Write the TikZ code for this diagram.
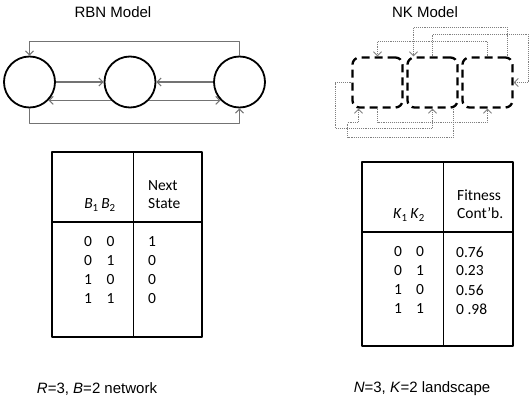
\documentclass[tikz,border=0pt]{standalone}
\usepackage{fontspec}
\setmainfont{Liberation Sans}
\newfontfamily\tabfont{Carlito}
\usetikzlibrary{arrows.meta}

\tikzset{
  cell/.style={circle,draw=black,line width=1.8pt,fill=white,minimum size=51pt,inner sep=0pt},
  site/.style={draw=black,line width=2.3pt,dash pattern=on 8pt off 5pt,rounded corners=7pt,minimum size=50pt,inner sep=0pt},
  link/.style={draw=black!55,line width=1.1pt,-{Straight Barb[length=4pt,width=8pt]}},
  nklink/.style={draw=black!50,line width=0.9pt,densely dotted,-{Straight Barb[length=4pt,width=8pt]}},
  frame/.style={line width=2.5pt},
  tab/.style={font=\tabfont\fontsize{15.5}{18.5}\selectfont,inner sep=0pt}
}

\begin{document}
\begin{tikzpicture}[x=1pt,y=-1pt,line join=round,font=\fontsize{15}{18}\selectfont]
\useasboundingbox (0,0) rectangle (532,404);

% RBN model
\node (rbn) at (113,12) {RBN Model};
\node[cell] (c1) at (29.5,82) {};
\node[cell] (c2) at (130,82) {};
\node[cell] (c3) at (239.5,82) {};

\draw[link] (c3.north) -- ++(0,-14) -| (c1.north);
\draw[link] (c1.south) -- ++(0,15) -| (c3.south);
\draw[link] (c1) -- (c2);
\draw[link] (c3) -- (c2);
\draw[link] (c2.224) -- (c1.-44);
\draw[link] (c2.-44) -- (c3.224);

% NK model
\node (nk) at (425,12) {NK Model};
\node[site] (k1) at (377.5,82.5) {};
\node[site] (k2) at (432.5,82.5) {};
\node[site] (k3) at (487.5,82.5) {};

\draw[nklink] (k3.north) -- ++(0,-15) -| (k1.north);
\draw[nklink] ([xshift=20]k3.north) -- ++(0,-29) -| ([xshift=-19]k2.north);
\draw[nklink] (k2.north) -- ++(0,-22) -| ([xshift=15]k3.east) -- (k3.east);
\draw[nklink] (k1.west) -- ++(-16,0) -- ++(0,46) -| (k2.south);
\draw[nklink] ([xshift=21]k2.south) -- ++(0,29) -- ++(-106,0) -- ++(0,-15) -| ([xshift=-19]k1.south);
\draw[nklink] (k1.south) -- ++(0,14) -| (k3.south);

% truth table
\draw[line width=0.8pt] (133,152) -- (133,337);
\draw[frame] (52,152) rectangle (202,337);
\draw[frame] (52,222) -- (202,222);
\node[tab] (bb) at (100,205) {\textit{B}\textsubscript{1}\,\textit{B}\textsubscript{2}};
\node[tab,anchor=west,align=left] (ns) at (148,194.5) {Next\\State};
\foreach \a/\b/\c [count=\i] in {0/0/1,0/1/0,1/0/0,1/1/0} {
  \node[tab] (ra\i) at (88,{223+19*\i}) {\a};
  \node[tab] (rb\i) at (110.5,{223+19*\i}) {\b};
  \node[tab] (rc\i) at (152,{223+19*\i}) {\c};
}
\node (rcap) at (97,389) {\textit{R}=3, \textit{B}=2 network};

% fitness table
\draw[line width=0.8pt] (443,162) -- (443,346);
\draw[frame] (362,162) rectangle (513,346);
\draw[frame] (362,232) -- (513,232);
\node[tab] (kk) at (409,215) {\textit{K}\textsubscript{1}\,\textit{K}\textsubscript{2}};
\node[tab,anchor=west,align=left] (fc) at (457,204) {Fitness\\Cont’b.};
\foreach \a/\b/\f [count=\i] in {0/0/0.76,0/1/0.23,1/0/0.56,1/1/0 .98} {
  \node[tab] (ka\i) at (398,{233+19*\i}) {\a};
  \node[tab] (kb\i) at (420,{233+19*\i}) {\b};
  \node[tab,anchor=west] (kf\i) at (456,{233+19*\i}) {\f};
}
\node (kcap) at (422,389) {\textit{N}=3, \textit{K}=2 landscape};
\end{tikzpicture}
\end{document}
